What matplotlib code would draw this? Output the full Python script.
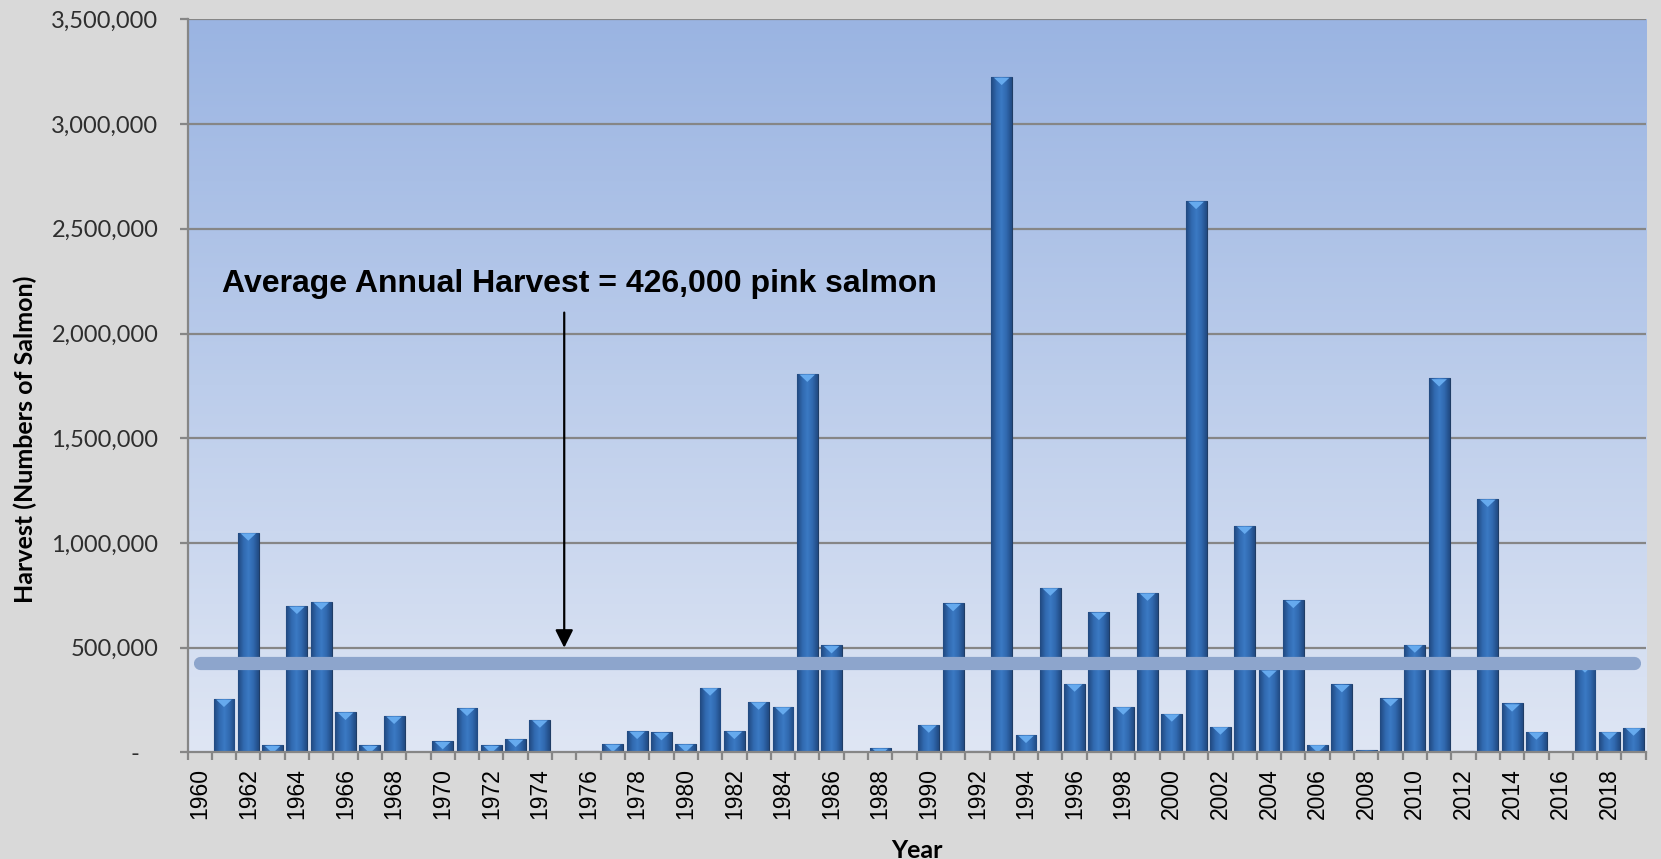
import matplotlib.pyplot as plt
import numpy as np
from matplotlib.colors import LinearSegmentedColormap
from matplotlib.ticker import FuncFormatter, MultipleLocator
from matplotlib.transforms import ScaledTranslation

# pink salmon harvest by year
years = list(range(1960, 2020))
harvest = [
    0, 256000, 1050000, 35000, 700000, 720000, 194000, 35000, 175000, 0,        # 1960-69
    54000, 213000, 35000, 65000, 157000, 0, 8000, 41000, 103000, 97000,         # 1970-79
    41000, 310000, 103000, 243000, 219000, 1808000, 512000, 0, 22000, 0,        # 1980-89
    133000, 713000, 6000, 3225000, 84000, 787000, 329000, 671000, 219000, 763000,  # 1990-99
    186000, 2633000, 124000, 1082000, 395000, 728000, 38000, 326000, 11000, 259000,  # 2000-09
    515000, 1786000, 6000, 1211000, 234000, 100000, 0, 420000, 100000, 119000,  # 2010-19
]
average = 426000
note = "Average Annual Harvest = 426,000 pink salmon"

fig = plt.figure(figsize=(16.61, 8.59), dpi=100, facecolor="#d9d9d9")
ax = fig.add_axes([0.1129, 0.124, 0.8779, 0.8535])
ax.set_facecolor("none")

# gradient plot background
bg = LinearSegmentedColormap.from_list("bg", ["#dfe6f4", "#bccdeb", "#9ab4e2"])
ax.imshow(np.linspace(0, 1, 256).reshape(-1, 1), cmap=bg, origin="lower",
          extent=[0, 1, 0, 1], transform=ax.transAxes, aspect="auto", zorder=0)

# grid
for v in np.arange(500000, 3500001, 500000):
    ax.axhline(v, color="#868686", lw=1.6, zorder=1)

# bars with cylinder-like shading
bars = ax.bar(years, harvest, width=0.86, color="#2d66ad", edgecolor="#1f3d66",
              linewidth=0.8, zorder=2)
shade = LinearSegmentedColormap.from_list(
    "shade", ["#21497f", "#3068ae", "#3b7ac4", "#3068ae", "#214a82"])
grad = np.linspace(0, 1, 64).reshape(1, -1)
for b in bars:
    if b.get_height() <= 0:
        continue
    x0 = b.get_x()
    im = ax.imshow(grad, cmap=shade, aspect="auto", zorder=2.1,
                   extent=[x0, x0 + b.get_width(), 0, b.get_height()])
    im.set_clip_path(b)

# bevel triangle on the top of each bar
tops_x = [y for y, h in zip(years, harvest) if h >= 20000]
tops_y = [h for h in harvest if h >= 20000]
bevel = [(-1, 0), (1, 0), (0, -0.95), (-1, 0)]
shift = ax.transData + ScaledTranslation(0, -0.8 / 100, fig.dpi_scale_trans)
ax.scatter(tops_x, tops_y, marker=bevel, s=125, color="#66aaee", edgecolors="none",
           zorder=2.5, transform=shift)

# average line
ax.plot([years[0], years[-1]], [average, average], color="#8da5cc", lw=9.5,
        solid_capstyle="round", zorder=3)

# annotation
ax.annotate("", xy=(1975, 500000), xytext=(1975, 2100000),
            arrowprops=dict(arrowstyle="-|>", color="black", lw=1.6,
                            mutation_scale=27, shrinkA=0, shrinkB=0), zorder=4)
ax.text(1960.92, 2237000, note, fontsize=23, fontweight="bold",
        family=["Liberation Sans", "DejaVu Sans"], va="center", ha="left", zorder=4)

ax.set_xlim(1959.5, 2019.5)
ax.set_ylim(0, 3500000)

# axes styling
for s in ["top", "right"]:
    ax.spines[s].set_visible(False)
for s in ["left", "bottom"]:
    ax.spines[s].set_color("#868686")
    ax.spines[s].set_linewidth(1.6)
    ax.spines[s].set_zorder(5)

ax.yaxis.set_major_locator(MultipleLocator(500000))
ax.yaxis.set_major_formatter(FuncFormatter(lambda v, p: f"{v:,.0f}" if v > 0 else "-   "))
ax.tick_params(axis="y", length=6, width=1.6, color="#868686", pad=15,
               labelsize=17, labelcolor="#2e2e2e")
for t in ax.get_yticklabels():
    t.set_family(["Lato", "DejaVu Sans"])

ax.set_xticks(years[::2])
ax.set_xticks(np.arange(1959.5, 2020, 1), minor=True)
ax.tick_params(axis="x", which="major", length=0, pad=11, labelsize=16.5,
               labelrotation=90)
ax.tick_params(axis="x", which="minor", length=6, width=1.6, color="#868686")
for t in ax.get_xticklabels():
    t.set_family(["Liberation Sans", "DejaVu Sans"])

ax.set_xlabel("Year", fontsize=18, fontweight="bold", family=["Lato", "DejaVu Sans"])
ax.xaxis.set_label_coords(0.5, -0.118)
ax.set_ylabel("Harvest (Numbers of Salmon)", fontsize=18, fontweight="bold",
              family=["Lato", "DejaVu Sans"])
ax.yaxis.set_label_coords(-0.103, 0.427)

fig.savefig("out.png", dpi=100, facecolor=fig.get_facecolor())
